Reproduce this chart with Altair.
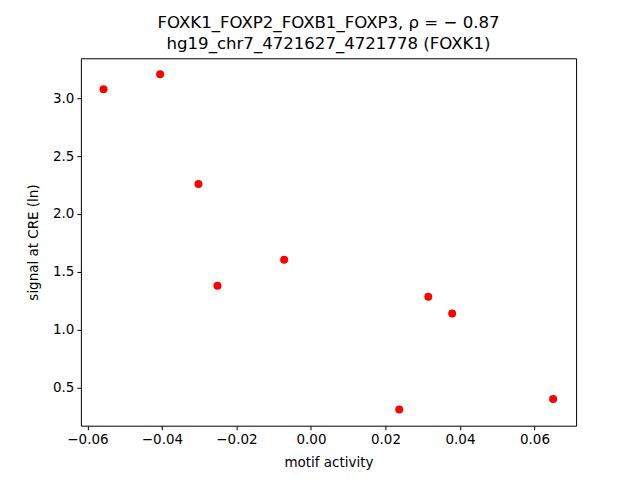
import altair as alt
import pandas as pd

motif_activity = [-0.0557, -0.0405, -0.0302, -0.0251, -0.0072, 0.0237, 0.0315, 0.0379, 0.0650]
signal = [3.078, 3.207, 2.259, 1.379, 1.603, 0.310, 1.284, 1.138, 0.399]
x_ticks = [-0.06, -0.04, -0.02, 0.0, 0.02, 0.04, 0.06]
y_ticks = [0.5, 1.0, 1.5, 2.0, 2.5, 3.0]
title_lines = ["FOXK1_FOXP2_FOXB1_FOXP3, ρ = − 0.87", "hg19_chr7_4721627_4721778 (FOXK1)"]

df = pd.DataFrame({"x": motif_activity, "y": signal})

FONT = "DejaVu Sans"

chart = alt.Chart(df).mark_circle(color="#ff0000", opacity=1, size=64).encode(
    x=alt.X("x:Q", scale=alt.Scale(domain=[-0.06177, 0.07117], nice=False, zero=False),
            axis=alt.Axis(values=x_ticks, format=".2f", title="motif activity")),
    y=alt.Y("y:Q", scale=alt.Scale(domain=[0.169, 3.345], nice=False, zero=False),
            axis=alt.Axis(values=y_ticks, format=".1f", title="signal at CRE (ln)")),
).properties(
    width=496, height=368,
    title=alt.TitleParams(text=title_lines, anchor="middle", fontSize=16.6, font=FONT,
                          fontWeight="normal", color="black", offset=6, lineHeight=21),
    autosize=alt.AutoSizeParams(type="none"),
    padding={"left": 73, "top": 50, "right": 56, "bottom": 45},
).configure_view(stroke="black", strokeWidth=1).configure_axis(
    grid=False, domainColor="black", tickColor="black", tickSize=4,
    labelFont=FONT, titleFont=FONT, labelFontSize=13.5, titleFontSize=13.5,
    labelColor="black", titleColor="black", titleFontWeight="normal",
    labelPadding=3, domain=False,
).configure_axisX(titlePadding=9).configure_axisY(titlePadding=12)

chart.save("out.html", embed_options={"renderer": "svg", "actions": False})
